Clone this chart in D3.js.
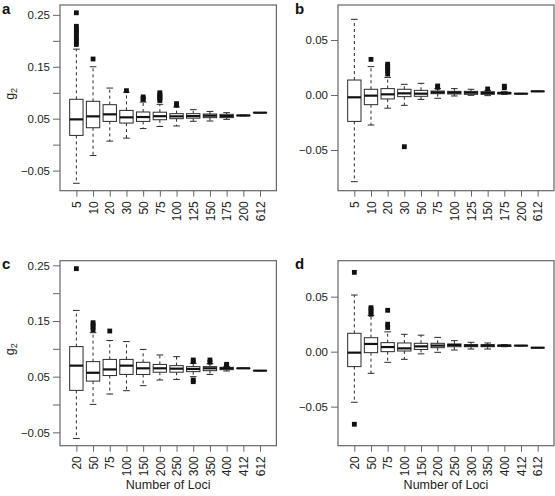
<!DOCTYPE html>
<html><head><meta charset="utf-8">
<script src="https://cdn.jsdelivr.net/npm/d3@7"></script>
<style>
html,body{margin:0;padding:0;background:#fff;}
svg{display:block;font-family:"Liberation Sans",Arial,sans-serif;}
</style></head>
<body>
<svg id="chart" width="555" height="496"></svg>
<script>
// ---- data ----
const lociAB = ["5","10","20","30","50","75","100","125","150","175","200","612"];
const lociCD = ["20","50","75","100","150","200","250","300","350","400","412","612"];

// [lower whisker, Q1, median, Q3, upper whisker]
const statsA = [
  [-0.0744,0.0178,0.0487,0.0874,0.184],
  [-0.021,0.0326,0.0545,0.0835,0.150],
  [0.0068,0.0448,0.0584,0.077,0.109],
  [0.0126,0.0416,0.0526,0.066,0.101],
  [0.031,0.0448,0.0532,0.0629,0.082],
  [0.035,0.048,0.0548,0.0625,0.0777],
  [0.036,0.05,0.0545,0.0597,0.0726],
  [0.045,0.051,0.055,0.0597,0.0674],
  [0.0455,0.052,0.0558,0.059,0.064],
  [0.0487,0.052,0.055,0.0584,0.0616],
  [0.0555,0.0558,0.0562,0.0566,0.057],
  [0.0614,0.0615,0.0616,0.0617,0.0618]
];
const outliersA = [
  [0.254,0.228,0.223,0.218,0.214,0.207,0.203,0.198,0.193],
  [0.165],[],[0.104],[0.092,0.089,0.087],
  [0.100,0.097,0.094,0.091,0.088,0.085],
  [0.079,0.076],[],[],[],[],[]
];

const statsB = [
  [-0.0788,-0.024,-0.0021,0.0136,0.0688],
  [-0.0273,-0.0088,-0.0006,0.0052,0.0258],
  [-0.012,-0.0036,0.0006,0.0058,0.016],
  [-0.0094,-0.0015,0.0015,0.0052,0.0097],
  [-0.004,-0.0012,0.0012,0.0042,0.0106],
  [-0.003,0.0012,0.0024,0.0036,0.0058],
  [-0.0009,0.0009,0.0021,0.0033,0.0058],
  [-0.0003,0.0006,0.0021,0.0033,0.0052],
  [-0.0006,0.0006,0.0018,0.003,0.0042],
  [0.0006,0.0009,0.0018,0.0024,0.003],
  [0.0010,0.0011,0.0012,0.0013,0.0014],
  [0.0031,0.0032,0.0033,0.0034,0.0035]
];
const outliersB = [
  [],[0.0324],[0.028,0.026,0.024,0.022,0.019],[-0.047],[],
  [0.0082,0.007],[],[],[0.0055],[0.008,0.0065],[],[]
];

const statsC = [
  [-0.061,0.0254,0.0698,0.104,0.169],
  [0.0002,0.042,0.057,0.077,0.129],
  [0.0188,0.052,0.063,0.081,0.115],
  [0.0248,0.054,0.0698,0.081,0.113],
  [0.0338,0.054,0.065,0.0758,0.099],
  [0.044,0.058,0.065,0.072,0.089],
  [0.045,0.058,0.0644,0.0698,0.086],
  [0.05,0.059,0.0638,0.068,0.074],
  [0.054,0.0608,0.065,0.068,0.0734],
  [0.0602,0.0626,0.065,0.0668,0.0685],
  [0.0648,0.0649,0.065,0.0651,0.0652],
  [0.0606,0.0607,0.0608,0.0609,0.061]
];
const outliersC = [
  [0.244],[0.147,0.143,0.139,0.134],[0.132],[],[],[],[],
  [0.08,0.077,0.044,0.041],[0.08,0.076],[0.0722,0.0705],[],[]
];

const statsD = [
  [-0.046,-0.0136,-0.0009,0.0167,0.0515],
  [-0.0197,-0.0009,0.007,0.0127,0.033],
  [-0.0097,0.0,0.0042,0.0082,0.018],
  [-0.007,0.0006,0.003,0.0079,0.0158],
  [-0.002,0.002,0.0048,0.0076,0.015],
  [-0.0006,0.0036,0.0055,0.0076,0.013],
  [0.0015,0.0045,0.006,0.007,0.01],
  [0.0024,0.0045,0.0055,0.0064,0.0085],
  [0.0024,0.0045,0.0055,0.0064,0.0079],
  [0.0045,0.0048,0.0055,0.006,0.0064],
  [0.0053,0.0054,0.0055,0.0056,0.0057],
  [0.0034,0.0035,0.0036,0.0037,0.0038]
];
const outliersD = [
  [0.0721,-0.066],[0.04,0.0385,0.036,0.034],[0.0376,0.025,0.022],
  [],[],[],[],[],[],[],[],[]
];

const ticksAC = [-0.05,0,0.05,0.10,0.15,0.20,0.25];
const labelsAC = [-0.05,0.05,0.15,0.25];
const ticksBD = [-0.05,0,0.05];
const labelsBD = [-0.05,0,0.05];

// ---- layout ----
const panels = [
  {id:"a", cats:lociAB, stats:statsA, out:outliersA, x0:60, x1:276.4, y0:5, y1:190.7, dom:[-0.0887,0.269], ticks:ticksAC, labels:labelsAC, ylab:true, xlab:false},
  {id:"b", cats:lociAB, stats:statsB, out:outliersB, x0:338, x1:554, y0:5, y1:190.7, dom:[-0.087,0.0818], ticks:ticksBD, labels:labelsBD, ylab:false, xlab:false},
  {id:"c", cats:lociCD, stats:statsC, out:outliersC, x0:60, x1:276.4, y0:260.7, y1:445.7, dom:[-0.074,0.2583], ticks:ticksAC, labels:labelsAC, ylab:true, xlab:true},
  {id:"d", cats:lociCD, stats:statsD, out:outliersD, x0:338, x1:554, y0:260.7, y1:445.7, dom:[-0.0855,0.0827], ticks:ticksBD, labels:labelsBD, ylab:false, xlab:true}
];

const svg = d3.select("#chart");
const fmt = v => (v === 0 ? "0.00" : d3.format(".2f")(v)).replace("-", "\u2212");
const boxCol = "#2a2a2a", frameCol = "#666";

panels.forEach(p => {
  const g = svg.append("g");
  const x = d3.scaleLinear().domain([0.02, p.cats.length + 0.98]).range([p.x0, p.x1]);
  const y = d3.scaleLinear().domain(p.dom).range([p.y1, p.y0]);
  const step = x(2) - x(1);
  const bw = step * 0.8, sw = bw * 0.5;

  // frame
  g.append("rect").attr("x", p.x0).attr("y", p.y0).attr("width", p.x1 - p.x0).attr("height", p.y1 - p.y0)
    .attr("fill", "none").attr("stroke", frameCol).attr("stroke-width", 1.2);

  // y axis
  const yAxis = d3.axisLeft(y).tickValues(p.ticks).tickSize(7).tickPadding(3)
    .tickFormat(v => p.labels.some(l => Math.abs(l - v) < 1e-9) ? fmt(v) : "");
  const ya = g.append("g").attr("transform", `translate(${p.x0},0)`).call(yAxis);
  ya.select(".domain").remove();
  ya.selectAll("line").attr("stroke", frameCol);
  ya.selectAll("text").attr("font-size", 11.5).attr("fill", "#222").attr("font-family", "Liberation Sans, Arial, sans-serif");

  // x axis
  const xAxis = d3.axisBottom(x).tickValues(d3.range(1, p.cats.length + 1)).tickSize(6)
    .tickFormat((d) => p.cats[d - 1]);
  const xa = g.append("g").attr("transform", `translate(0,${p.y1})`).call(xAxis);
  xa.select(".domain").remove();
  xa.selectAll("line").attr("stroke", frameCol);
  xa.selectAll("text").attr("font-size", 12).attr("fill", "#222")
    .attr("font-family", "Liberation Sans, Arial, sans-serif")
    .attr("transform", "translate(0,10.5) rotate(-90)")
    .attr("x", 0).attr("y", 0).attr("dy", "0.35em").attr("text-anchor", "end");

  // boxes
  const bg = g.selectAll("g.box").data(p.stats).join("g").attr("class", "box");
  bg.each(function(s, i) {
    const b = d3.select(this);
    const cx = x(i + 1);
    // whiskers
    b.append("line").attr("x1", cx).attr("x2", cx).attr("y1", y(s[3])).attr("y2", y(s[4]))
      .attr("stroke", boxCol).attr("stroke-dasharray", "3,3");
    b.append("line").attr("x1", cx).attr("x2", cx).attr("y1", y(s[1])).attr("y2", y(s[0]))
      .attr("stroke", boxCol).attr("stroke-dasharray", "3,3");
    // staples
    [s[0], s[4]].forEach(v => b.append("line").attr("x1", cx - sw / 2).attr("x2", cx + sw / 2)
      .attr("y1", y(v)).attr("y2", y(v)).attr("stroke", boxCol));
    // box
    b.append("rect").attr("x", cx - bw / 2).attr("width", bw)
      .attr("y", y(s[3])).attr("height", Math.max(0.1, y(s[1]) - y(s[3])))
      .attr("fill", "#fff").attr("stroke", boxCol);
    // median
    b.append("line").attr("x1", cx - bw / 2).attr("x2", cx + bw / 2)
      .attr("y1", y(s[2])).attr("y2", y(s[2])).attr("stroke", "#111").attr("stroke-width", 2.2);
    // outliers
    b.selectAll("rect.out").data(p.out[i]).join("rect").attr("class", "out")
      .attr("x", cx - 2.4).attr("y", v => y(v) - 2.4).attr("width", 4.8).attr("height", 4.8)
      .attr("fill", "#111");
  });

  // panel letter
  svg.append("text").attr("x", p.x0 - (p.id === "a" || p.id === "c" ? 58 : 43)).attr("y", p.y0 + 8.5)
    .attr("font-size", 15).attr("font-weight", "bold").attr("fill", "#111").text(p.id);

  if (p.ylab) {
    const t = svg.append("text").attr("transform", `translate(14,${(p.y0 + p.y1) / 2 - 4}) rotate(-90)`)
      .attr("text-anchor", "middle").attr("font-size", 12.5).attr("fill", "#222");
    t.append("tspan").text("g");
    t.append("tspan").attr("font-size", 9).attr("dy", 3).text("2");
  }
  if (p.xlab) {
    svg.append("text").attr("x", (p.x0 + p.x1) / 2).attr("y", 489).attr("text-anchor", "middle")
      .attr("font-size", 12.5).attr("fill", "#222").text("Number of Loci");
  }
});
</script>
</body></html>
